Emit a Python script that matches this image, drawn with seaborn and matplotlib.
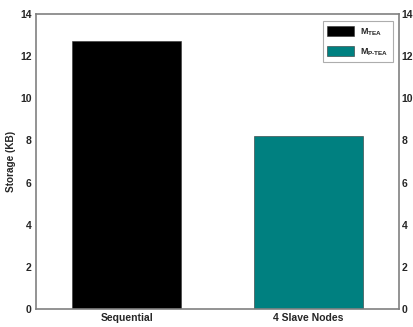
import matplotlib
matplotlib.use("Agg")
import matplotlib.pyplot as plt
import seaborn as sns
import pandas as pd

categories = ["Sequential", "4 Slave Nodes"]
values = [12.7, 8.2]
series = ["M$_{\\mathregular{TEA}}$", "M$_{\\mathregular{P\u2010TEA}}$"]
colors = ["#000000", "#008080"]
yticks = [0, 2, 4, 6, 8, 10, 12, 14]

sns.set_style("white")
plt.rcParams['font.family'] = ['Liberation Sans', 'DejaVu Sans']
plt.rcParams['font.weight'] = 'bold'
plt.rcParams['mathtext.default'] = 'regular'

df = pd.DataFrame({"cat": categories, "val": values, "series": series})

fig = plt.figure(figsize=(4.13, 3.27), dpi=100)
ax = fig.add_axes([36/413, 1-309/327, (399-36)/413, (309-14)/327])
sns.barplot(data=df, x="cat", y="val", hue="series", palette=colors,
            width=0.6, dodge=False, ax=ax, saturation=1, edgecolor="#333333", linewidth=0.4)
ax.set_xlim(-0.5, 1.5)
ax.set_ylim(0, 14)
ax.set_yticks(yticks)
ax.set_xlabel("")
ax.set_ylabel("Storage (KB)", fontsize=7.2, fontweight='bold', labelpad=3)
ax.tick_params(axis='both', length=0, labelsize=7.5, pad=3)
for lab in ax.get_xticklabels() + ax.get_yticklabels():
    lab.set_fontweight('bold')
for s in ax.spines.values():
    s.set_color("#808080")
    s.set_linewidth(1.2)

ax2 = ax.twinx()
ax2.set_ylim(0, 14)
ax2.set_yticks(yticks)
ax2.tick_params(axis='y', length=0, labelsize=7.5, pad=2)
for lab in ax2.get_yticklabels():
    lab.set_fontweight('bold')
for s in ax2.spines.values():
    s.set_visible(False)

leg = ax.legend(loc="upper right", fontsize=6.5, frameon=True, fancybox=False,
                handlelength=3.0, handleheight=1.4, labelspacing=0.9,
                borderpad=0.5, handletextpad=0.6, bbox_to_anchor=(0.995, 0.99))
leg.get_frame().set_edgecolor("#999999")
leg.get_frame().set_linewidth(0.8)
for t in leg.get_texts():
    t.set_fontweight('bold')

fig.savefig("out.png", dpi=100)
